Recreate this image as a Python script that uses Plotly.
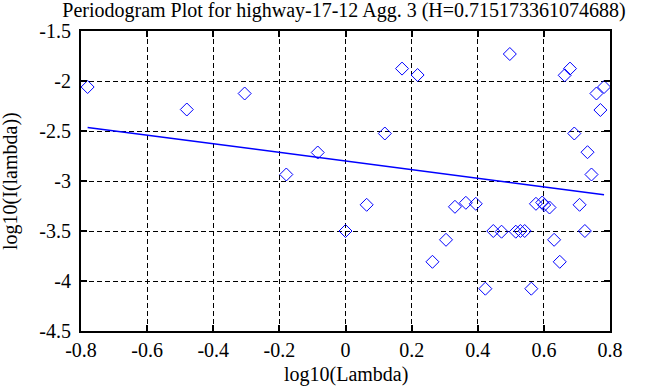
import plotly.graph_objects as go

log_lambda = [-0.78, -0.48, -0.305, -0.179, -0.084, 0.0, 0.064, 0.119, 0.171, 0.218,
              0.263, 0.304, 0.331, 0.364, 0.394, 0.423, 0.447, 0.472, 0.497, 0.515,
              0.529, 0.542, 0.562, 0.576, 0.595, 0.601, 0.617, 0.631, 0.648, 0.663,
              0.679, 0.692, 0.708, 0.724, 0.732, 0.744, 0.759, 0.771, 0.782]
log_I = [-2.06, -2.285, -2.125, -2.935, -2.715, -3.5, -3.238, -2.525, -1.876, -1.94,
         -3.808, -3.588, -3.258, -3.218, -3.228, -4.077, -3.5, -3.507, -1.73, -3.507,
         -3.5, -3.5, -4.077, -3.228, -3.215, -3.24, -3.265, -3.588, -3.808, -1.943,
         -1.876, -2.525, -3.238, -3.5, -2.712, -2.935, -2.125, -2.29, -2.06]
H = 0.715173361074688
fit_intercept = -2.80
fit_slope = 1 - 2 * H

x_ticks = [-0.8, -0.6, -0.4, -0.2, 0, 0.2, 0.4, 0.6, 0.8]
y_ticks = [-4.5, -4, -3.5, -3, -2.5, -2, -1.5]

line_x = [min(log_lambda), max(log_lambda)]
line_y = [fit_intercept + fit_slope * v for v in line_x]

FONT = "Liberation Serif"
FS = 20
W, HGT = 668, 387
fig = go.Figure()
fig.add_trace(go.Scatter(x=log_lambda, y=log_I, mode="markers",
                         marker=dict(symbol="diamond-open", size=10, color="#0000ff",
                                     line=dict(width=1, color="#0000ff")),
                         showlegend=False))
fig.add_trace(go.Scatter(x=line_x, y=line_y, mode="lines",
                         line=dict(color="#0000ff", width=1.5), showlegend=False))

axis_common = dict(showline=True, linecolor="black", linewidth=2, mirror="ticks",
                   ticks="inside", ticklen=6, tickwidth=1.5, tickcolor="black",
                   showgrid=True, gridcolor="black", gridwidth=1, griddash="5px,3px",
                   zeroline=False, automargin=False,
                   tickfont=dict(family=FONT, size=FS, color="black"))
fig.update_xaxes(range=[-0.8, 0.8], tickvals=x_ticks, ticktext=[f"{v:g}" for v in x_ticks],
                 ticklabelstandoff=0, **axis_common)
fig.update_yaxes(range=[-4.5, -1.5], tickvals=y_ticks, ticktext=[f"{v:g}" for v in y_ticks],
                 ticklabelstandoff=4, **axis_common)

fig.update_layout(
    width=W, height=HGT,
    margin=dict(l=81, r=58, t=31, b=56),
    paper_bgcolor="white", plot_bgcolor="white",
    font=dict(family=FONT, size=FS, color="black"),
    title=dict(text="Periodogram Plot for highway-17-12 Agg. 3 (H=0.715173361074688)",
               x=344 / W, xanchor="center", xref="container",
               y=1 - 10 / HGT, yanchor="middle", yref="container",
               font=dict(family=FONT, size=FS, color="black")),
    annotations=[
        dict(text="log10(Lambda)", xref="paper", yref="paper", x=0.5, y=0,
             yshift=-43, showarrow=False, xanchor="center", yanchor="middle",
             font=dict(family=FONT, size=FS, color="black")),
        dict(text="log10(I(lambda))", xref="paper", yref="paper", x=0, y=0.5,
             xshift=-71, showarrow=False, textangle=-90, xanchor="center", yanchor="middle",
             font=dict(family=FONT, size=FS, color="black")),
    ],
)
fig.write_html("out.html", config={"displayModeBar": False},
               post_script="document.body.style.margin='0';")
